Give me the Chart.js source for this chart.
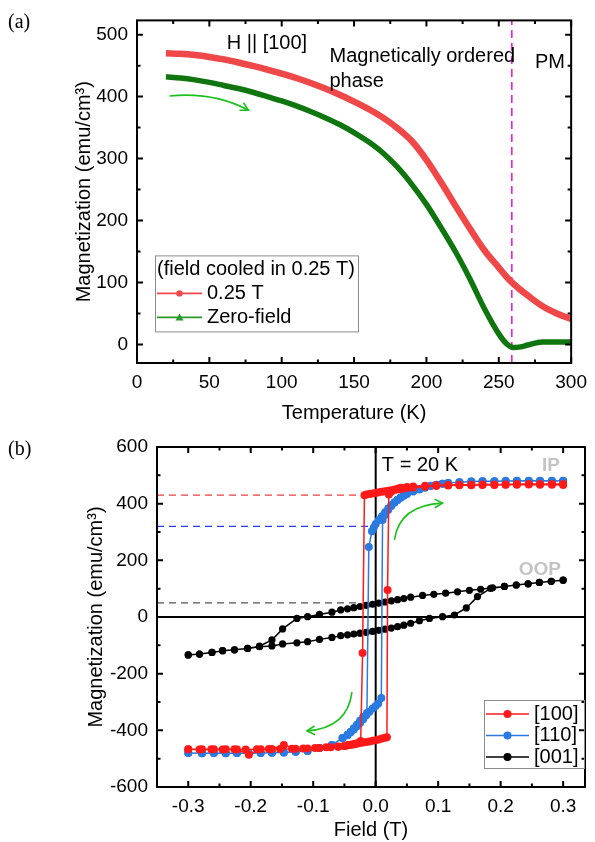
<!DOCTYPE html>
<html><head><meta charset="utf-8">
<script src="https://cdn.jsdelivr.net/npm/chart.js@4"></script>
<style>
html,body{margin:0;padding:0;background:#fff;width:595px;height:842px;overflow:hidden}
#wa{position:absolute;left:0;top:0;width:595px;height:425px}
#wb{position:absolute;left:0;top:425px;width:595px;height:417px}
canvas{display:block}
</style></head><body>
<div id="wa"><canvas id="ca" width="595" height="425"></canvas></div>
<div id="wb"><canvas id="cb" width="595" height="417"></canvas></div>
<script>
// ---------- Panel (a) data ----------
const tempA = [20,30,40,50,60,70,80,90,100,110,120,130,140,150,160,170,180,190,200,210,220,230,240,250,255,260,265,270,280,290,300];
const magFC = [470,469,467,464,460,455,449.5,443.5,437,430,422,413,403,392,380,366,349,328,298,262,224,187,152,124,110,98,88,79,62,50,41];
const magZF = [432,430,427,423,418,413,407,400,393,385,376,366,355,342,327,309,286,258,226,189,150,106,58,17,2,-5,-4,-1,4,4,4];
const tcA = 259;
const xTicksA = [0,50,100,150,200,250,300];
const yTicksA = [0,100,200,300,400,500];

// ---------- Panel (b) data ----------
const fieldB100 = [0.3,0.282,0.263,0.245,0.226,0.208,0.19,0.171,0.153,0.134,0.116,0.097,0.079,0.06,0.05,0.045,0.04,0.035,0.03,0.025,0.02,0.015,0.01,0.005,0,-0.005,-0.01,-0.015,-0.018,-0.021,-0.024,-0.03,-0.035,-0.04,-0.045,-0.05,-0.06,-0.072,-0.09,-0.109,-0.128,-0.147,-0.166,-0.184,-0.203,-0.222,-0.24,-0.259,-0.278,-0.3,
  -0.3,-0.282,-0.263,-0.245,-0.226,-0.208,-0.19,-0.171,-0.153,-0.134,-0.116,-0.097,-0.079,-0.06,-0.05,-0.045,-0.04,-0.035,-0.03,-0.025,-0.02,-0.015,-0.01,-0.005,0,0.005,0.01,0.015,0.018,0.019,0.021,0.025,0.03,0.035,0.04,0.05,0.06,0.079,0.097,0.116,0.134,0.153,0.171,0.19,0.208,0.226,0.245,0.263,0.282,0.3];
const magB100 = [466,467,467,468,467,467,466,466,465,465,464,462,460,457,455,454,452,450,449,447,446,444,442,440,438,436,434,432,430,-127,-438,-446,-449,-451,-453,-455,-458,-460,-462,-464,-465,-452,-466,-467,-486,-468,-467,-467,-467,-467,
  -467,-468,-467,-468,-467,-468,-467,-466,-466,-465,-464,-462,-460,-457,-455,-453,-451,-449,-447,-445,-443,-441,-439,-437,-435,-432,-429,-426,-424,95,432,442,449,453,456,459,461,463,465,466,467,467,468,468,468,469,469,469,469,469];

const fieldB110 = [0.3,0.282,0.263,0.245,0.226,0.208,0.19,0.171,0.153,0.134,0.116,0.107,0.097,0.088,0.079,0.07,0.06,0.05,0.045,0.04,0.035,0.03,0.025,0.02,0.015,0.01,0.005,0,-0.003,-0.006,-0.011,-0.014,-0.02,-0.025,-0.03,-0.035,-0.04,-0.045,-0.053,-0.07,-0.09,-0.109,-0.128,-0.147,-0.166,-0.184,-0.203,-0.222,-0.24,-0.259,-0.278,-0.3,
  -0.3,-0.278,-0.259,-0.24,-0.222,-0.203,-0.184,-0.166,-0.147,-0.128,-0.109,-0.09,-0.07,-0.053,-0.045,-0.04,-0.035,-0.03,-0.025,-0.02,-0.015,-0.01,-0.005,0,0.004,0.009,0.011,0.015,0.02,0.025,0.03,0.035,0.04,0.045,0.05,0.06,0.07,0.079,0.088,0.097,0.107,0.116,0.134,0.153,0.171,0.19,0.208,0.226,0.245,0.263,0.282,0.3];
const magB110 = [480,481,480,481,480,480,479,479,478,476,473,470,466,462,456,450,443,434,428,421,413,404,394,383,370,356,342,328,316,303,247,-339,-352,-366,-380,-393,-405,-415,-427,-452,-462,-473,-476,-478,-479,-480,-481,-480,-481,-480,-481,-480,
  -480,-481,-480,-481,-480,-481,-480,-479,-478,-476,-473,-462,-452,-427,-417,-407,-397,-386,-374,-361,-347,-334,-323,-314,-305,-286,342,360,378,392,404,414,422,430,436,445,452,458,463,467,470,473,476,478,479,479,480,481,480,481,480,481];

const fieldB001 = [0.3,0.281,0.262,0.244,0.225,0.206,0.187,0.168,0.15,0.131,0.112,0.093,0.075,0.056,0.045,0.035,0.025,0.015,0.005,-0.005,-0.015,-0.025,-0.035,-0.045,-0.056,-0.07,-0.09,-0.109,-0.126,-0.149,-0.166,-0.186,-0.205,-0.226,-0.245,-0.262,-0.282,-0.3,
  -0.3,-0.282,-0.262,-0.245,-0.226,-0.205,-0.186,-0.166,-0.149,-0.126,-0.109,-0.09,-0.07,-0.056,-0.045,-0.035,-0.025,-0.015,-0.005,0.005,0.015,0.025,0.035,0.045,0.056,0.07,0.086,0.107,0.126,0.145,0.163,0.184,0.206,0.225,0.244,0.262,0.281,0.3];
const magB001 = [130,126,122,117,113,108,103,98,94,89,84,80,76,70,65,61,57,53,49,45,41,37,33,29,25,17,9,1,-5,-42,-81,-103,-111,-116,-119,-125,-131,-134,
  -134,-131,-125,-119,-116,-111,-105,-102,-95,-91,-87,-79,-72,-66,-63,-60,-57,-54,-51,-47,-43,-39,-34,-29,-22,-13,-5,1,7,32,72,101,108,113,117,122,126,130];

const remLabels = ['[100]','[110]','[001]'];
const remMag = [430,320,50];
const remField = [-0.021,-0.006,-0.03];
const xTicksB = [-0.3,-0.2,-0.1,0,0.1,0.2,0.3];
const yTicksB = [-600,-400,-200,0,200,400,600];

// ---------- helpers ----------
const SANS = "'Liberation Sans', Arial, sans-serif";
const SERIF = "'Liberation Serif', 'Times New Roman', serif";
const pts = (xs, ys) => xs.map((v,i)=>({x:v,y:ys[i]}));
function minorsOf(ticks, min, max){
  const out=[]; const st=ticks[1]-ticks[0];
  const first=ticks[0]-st/2, last=ticks[ticks.length-1]+st/2;
  for(let v=first; v<=last+1e-9; v+=st){ if(v>min+1e-9 && v<max-1e-9) out.push(v); }
  return out;
}

const framePlugin = {
  id:'frame',
  beforeDatasetsDraw(chart){
    const o = chart.options.plugins.frame || {};
    const {ctx, chartArea:a, scales:{x,y}} = chart;
    ctx.save();
    ctx.beginPath(); ctx.rect(a.left,a.top,a.right-a.left,a.bottom-a.top); ctx.clip();
    if (o.zeroLines){
      ctx.strokeStyle='#000'; ctx.lineWidth=2;
      const y0=y.getPixelForValue(0), x0=x.getPixelForValue(0);
      ctx.beginPath(); ctx.moveTo(a.left,y0); ctx.lineTo(a.right,y0); ctx.moveTo(x0,a.top); ctx.lineTo(x0,a.bottom); ctx.stroke();
    }
    (o.hDashes||[]).forEach(d=>{
      ctx.strokeStyle=d.color; ctx.lineWidth=1.3; ctx.setLineDash([7,5]);
      const py=y.getPixelForValue(d.y);
      ctx.beginPath(); ctx.moveTo(a.left,py); ctx.lineTo(x.getPixelForValue(d.xEnd),py); ctx.stroke();
    });
    (o.vDashes||[]).forEach(d=>{
      ctx.strokeStyle=d.color; ctx.lineWidth=1.6; ctx.setLineDash([8,5]);
      const px=x.getPixelForValue(d.x);
      ctx.beginPath(); ctx.moveTo(px,a.bottom); ctx.lineTo(px,a.top); ctx.stroke();
    });
    ctx.restore();
  },
  afterDatasetsDraw(chart){
    const o = chart.options.plugins.frame || {};
    const {ctx, chartArea:a, scales:{x,y}} = chart;
    ctx.save();
    ctx.strokeStyle='#000'; ctx.lineWidth=2; ctx.setLineDash([]);
    ctx.strokeRect(a.left,a.top,a.right-a.left,a.bottom-a.top);
    ctx.lineWidth=2;
    const maj=6, mn=3.5;
    const xMaj=x.ticks.map(t=>t.value), yMaj=y.ticks.map(t=>t.value);
    const xMin=minorsOf(xMaj,x.min,x.max), yMin=minorsOf(yMaj,y.min,y.max);
    ctx.beginPath();
    const xt=(v,l)=>{const p=x.getPixelForValue(v); ctx.moveTo(p,a.bottom); ctx.lineTo(p,a.bottom-l); ctx.moveTo(p,a.top); ctx.lineTo(p,a.top+l);};
    const yt=(v,l)=>{const p=y.getPixelForValue(v); ctx.moveTo(a.left,p); ctx.lineTo(a.left+l,p); ctx.moveTo(a.right,p); ctx.lineTo(a.right-l,p);};
    xMaj.forEach(v=>xt(v,maj)); xMin.forEach(v=>xt(v,mn));
    yMaj.forEach(v=>yt(v,maj)); yMin.forEach(v=>yt(v,mn));
    ctx.stroke();
    // arrows
    (o.arrows||[]).forEach(ar=>{
      const P=q=>[x.getPixelForValue(q[0]), y.getPixelForValue(q[1])];
      const s=P(ar.from), c=P(ar.ctrl), e=P(ar.to);
      ctx.strokeStyle='#1cc01c'; ctx.lineWidth=1.6;
      ctx.beginPath(); ctx.moveTo(s[0],s[1]); ctx.quadraticCurveTo(c[0],c[1],e[0],e[1]); ctx.stroke();
      const ang=Math.atan2(e[1]-c[1], e[0]-c[0]); const L=9, sp=0.5;
      ctx.beginPath();
      ctx.moveTo(e[0]-L*Math.cos(ang-sp), e[1]-L*Math.sin(ang-sp));
      ctx.lineTo(e[0],e[1]);
      ctx.lineTo(e[0]-L*Math.cos(ang+sp), e[1]-L*Math.sin(ang+sp));
      ctx.stroke();
    });
    // texts
    (o.texts||[]).forEach(t=>{
      ctx.fillStyle=t.color||'#000'; ctx.font=t.font; ctx.textAlign='left'; ctx.textBaseline='middle';
      ctx.fillText(t.text, x.getPixelForValue(t.x), y.getPixelForValue(t.y));
    });
    // panel label
    if (o.panel){ ctx.fillStyle='#000'; ctx.font='20px '+SERIF; ctx.textAlign='left'; ctx.textBaseline='middle'; ctx.fillText(o.panel.text,o.panel.px,o.panel.py); }
    // legend
    if (o.legend){
      const L=o.legend; const bx=a.left+L.dx, by=a.top+L.dy;
      ctx.strokeStyle='#8c8c8c'; ctx.lineWidth=1;
      ctx.strokeRect(bx+0.5,by+0.5,L.w,L.h);
      ctx.font='20px '+SANS; ctx.textBaseline='middle'; ctx.textAlign='left'; ctx.fillStyle='#000';
      let ry=by+L.first;
      if (L.title){ ctx.fillText(L.title,bx+2,ry); ry+=L.gap; }
      L.items.forEach(it=>{
        const ds=chart.data.datasets[it.ds];
        ctx.strokeStyle=it.line||ds.borderColor; ctx.lineWidth=1.6;
        ctx.beginPath(); ctx.moveTo(bx+2,ry); ctx.lineTo(bx+2+L.sw,ry); ctx.stroke();
        const mx=bx+2+L.sw/2; ctx.fillStyle=it.line||ds.borderColor;
        ctx.beginPath();
        if (it.marker==='tri'){ ctx.moveTo(mx,ry-4); ctx.lineTo(mx+4,ry+3); ctx.lineTo(mx-4,ry+3); ctx.closePath(); }
        else ctx.arc(mx,ry,it.r||3,0,Math.PI*2);
        ctx.fill();
        ctx.fillStyle='#000'; ctx.fillText(ds.label,bx+L.sw+7,ry);
        ry+=L.gap;
      });
    }
    ctx.restore();
  }
};

function axisOpts(min,max,ticksArr,fmt,fixed,horizontal,title,titlePad,labPad){
  return {
    type:'linear', min, max,
    afterBuildTicks: s=>{ s.ticks = ticksArr.map(v=>({value:v})); },
    afterFit: horizontal ? (s=>{s.height=fixed;}) : (s=>{s.width=fixed;}),
    grid:{display:false, drawTicks:false, tickLength:0},
    border:{display:false},
    ticks:{color:'#000', font:{family:SANS,size:19}, padding:labPad, callback:fmt, maxRotation:0, autoSkip:false},
    title:{display:true, text:title, color:'#000', font:{family:SANS,size:20}, padding:titlePad}
  };
}

// ---------- Chart (a) ----------
new Chart(document.getElementById('ca'), {
  type:'line',
  data:{datasets:[
    {label:'0.25 T', data:pts(tempA,magFC), borderColor:'#f04848', backgroundColor:'#f04848', borderWidth:6.5, pointRadius:0, cubicInterpolationMode:'monotone'},
    {label:'Zero-field', data:pts(tempA,magZF), borderColor:'#0f760f', backgroundColor:'#0f760f', borderWidth:5.5, pointRadius:0, cubicInterpolationMode:'monotone'}
  ]},
  options:{
    responsive:false, animation:false, events:[],
    layout:{padding:{left:0,top:8,right:18,bottom:0}},
    scales:{
      x: axisOpts(0,300,xTicksA,v=>String(v),62,true,'Temperature (K)',{bottom:0},8),
      y: axisOpts(-30,523,yTicksA,v=>String(v),137,false,'Magnetization (emu/cm\u00B3)',{top:72},9)
    },
    plugins:{legend:{display:false}, tooltip:{enabled:false},
      frame:{
        vDashes:[{x:tcA,color:'#e620e6'}],
        arrows:[{from:[22.5,401],ctrl:[53,408],to:[77,378]}],
        texts:[
          {text:'H || [100]', x:62, y:485, font:'20px '+SANS},
          {text:'Magnetically ordered', x:133, y:464, font:'20px '+SANS},
          {text:'phase', x:133, y:425, font:'20px '+SANS},
          {text:'PM', x:275, y:455, font:'20px '+SANS}
        ],
        panel:{text:'(a)', px:8, py:23},
        legend:{dx:18, dy:235, w:203, h:76, first:14, gap:24, sw:45, title:'(field cooled in 0.25 T)',
          items:[{ds:0, marker:'dot', r:3.2},{ds:1, marker:'tri', line:'#2a9a2a'}]}
      }
    }
  },
  plugins:[framePlugin]
});

// ---------- Chart (b) ----------
new Chart(document.getElementById('cb'), {
  type:'line',
  data:{datasets:[
    {label:'[100]', data:pts(fieldB100,magB100), borderColor:'#ff1a1a', backgroundColor:'#ff1a1a', borderWidth:1.5, pointRadius:4, pointBorderWidth:0, tension:0},
    {label:'[110]', data:pts(fieldB110,magB110), borderColor:'#2a7ae2', backgroundColor:'#2a7ae2', borderWidth:1.5, pointRadius:4, pointBorderWidth:0, tension:0},
    {label:'[001]', data:pts(fieldB001,magB001), borderColor:'#000000', backgroundColor:'#000000', borderWidth:1.5, pointRadius:3.6, pointBorderWidth:0, tension:0}
  ]},
  options:{
    responsive:false, animation:false, events:[],
    layout:{padding:{left:0,top:22,right:10,bottom:0}},
    scales:{
      x: axisOpts(-0.35,0.335,xTicksB,v=>Number(v).toFixed(1),55,true,'Field (T)',{bottom:0},8),
      y: axisOpts(-600,600,yTicksB,v=>String(v),157,false,'Magnetization (emu/cm\u00B3)',{top:84},9)
    },
    plugins:{legend:{display:false}, tooltip:{enabled:false},
      frame:{
        zeroLines:true,
        hDashes:[
          {y:remMag[0], xEnd:remField[0], color:'#f03c3c'},
          {y:remMag[1], xEnd:remField[1], color:'#2a3cf0'},
          {y:remMag[2], xEnd:remField[2], color:'#505050'}
        ],
        arrows:[{from:[0.030,272],ctrl:[0.038,395],to:[0.107,402]},{from:[-0.038,-265],ctrl:[-0.045,-392],to:[-0.110,-402]}],
        texts:[
          {text:'T = 20 K', x:0.0099, y:535, font:'20px '+SANS},
          {text:'IP', x:0.266, y:533, font:'bold 19px '+SANS, color:'#c4c4c4'},
          {text:'OOP', x:0.229, y:168, font:'bold 19px '+SANS, color:'#c4c4c4'}
        ],
        panel:{text:'(b)', px:8, py:25},
        legend:{dx:327, dy:253, w:100, h:68, first:14, gap:21.5, sw:43,
          items:[{ds:0, marker:'dot', r:4},{ds:1, marker:'dot', r:4},{ds:2, marker:'dot', r:4}]}
      }
    }
  },
  plugins:[framePlugin]
});
</script></body></html>
